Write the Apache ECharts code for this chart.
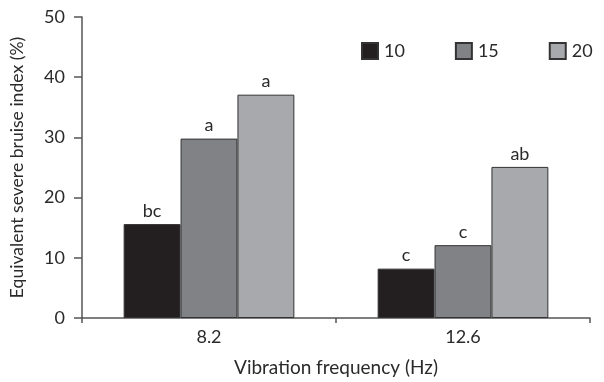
<!DOCTYPE html>
<html><head><meta charset="utf-8">
<script src="https://cdn.jsdelivr.net/npm/echarts@6/dist/echarts.min.js"></script>
<style>html,body{margin:0;padding:0;background:#fff}#c{width:604px;height:382px}</style>
</head><body><div id="c"></div>
<script>
const categories = ['8.2', '12.6'];
const seriesNames = ['10', '15', '20'];
const values10 = [15.6, 8.2];
const values15 = [29.8, 12.1];
const values20 = [37.1, 25.1];
const labels10 = ['bc', 'c'];
const labels15 = ['a', 'c'];
const labels20 = ['a', 'ab'];
const colors = ['#231f20', '#808285', '#a7a9ac'];
const yTicks = [0, 10, 20, 30, 40, 50];

const FONT = 'Lato';
const txt = '#2a2a2a';
const all = [values10, values15, values20];
const labs = [labels10, labels15, labels20];

const chart = echarts.init(document.getElementById('c'), null, {renderer: 'canvas'});
chart.setOption({
  animation: false,
  textStyle: {fontFamily: FONT, color: txt},
  grid: {left: 82, right: 14, top: 17, bottom: 59, containLabel: false},
  legend: {
    left: 356, top: 37, itemWidth: 16, itemHeight: 16, itemGap: 50,
    icon: 'rect',
    textStyle: {fontFamily: FONT, fontSize: 18, color: txt, padding: [0,0,0,1]},
    data: seriesNames
  },
  xAxis: {
    type: 'category', data: categories,
    name: 'Vibration frequency (Hz)', nameLocation: 'middle', nameGap: 40,
    nameTextStyle: {fontFamily: FONT, fontSize: 19, color: txt},
    axisLine: {lineStyle: {color: '#555', width: 1.5}},
    axisTick: {show: true, length: 5, lineStyle: {color: '#555', width: 1.5},
      interval: 0},
    axisLabel: {fontFamily: FONT, fontSize: 18, color: txt, margin: 10}
  },
  yAxis: {
    type: 'value', min: 0, max: 50, interval: 10,
    name: 'Equivalent severe bruise index (%)', nameLocation: 'middle', nameGap: 56,
    nameTextStyle: {fontFamily: FONT, fontSize: 17.6, color: txt},
    axisLine: {show: true, lineStyle: {color: '#555', width: 1.5}},
    axisTick: {show: true, length: 8, lineStyle: {color: '#555', width: 1.5}},
    axisLabel: {fontFamily: FONT, fontSize: 18, color: txt, margin: 17,
      formatter: v => yTicks.includes(v) ? String(v) : ''},
    splitLine: {show: false}
  },
  series: seriesNames.map((n, i) => ({
    name: n, type: 'bar', data: all[i],
    barWidth: '22.4%', barGap: '0%', barCategoryGap: '33%',
    itemStyle: {color: colors[i], borderColor: '#333', borderWidth: 1},
    label: {show: true, position: 'top', distance: 4, fontFamily: FONT, fontSize: 18, color: txt,
      formatter: p => labs[i][p.dataIndex]}
  }))
});
</script></body></html>
